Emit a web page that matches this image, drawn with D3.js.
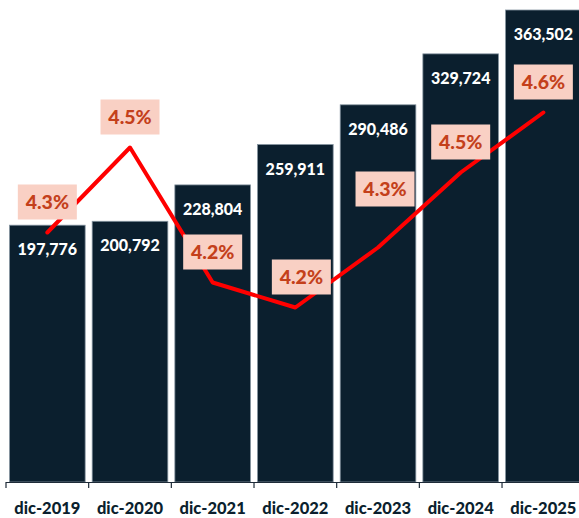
<!DOCTYPE html>
<html>
<head>
<meta charset="utf-8">
<script src="https://cdn.jsdelivr.net/npm/d3@7"></script>
<style>
  html, body { margin: 0; padding: 0; background: #ffffff; }
  svg { display: block; }
</style>
</head>
<body>
<svg id="chart" width="579" height="518"></svg>
<script>
// ---- data ----
const categories = ["dic-2019", "dic-2020", "dic-2021", "dic-2022", "dic-2023", "dic-2024", "dic-2025"];
const amounts = [197776, 200792, 228804, 259911, 290486, 329724, 363502];
const rates = [4.34, 4.51, 4.24, 4.19, 4.31, 4.46, 4.58];
const rateLabels = ["4.3%", "4.5%", "4.2%", "4.2%", "4.3%", "4.5%", "4.6%"];

// ---- layout ----
const W = 579, H = 518;
const baseY = 482, topY = 10;
const svg = d3.select("#chart");
const FONT = "Lato, 'Open Sans', sans-serif";

const x = d3.scaleBand()
  .domain(categories)
  .range([6, 584.7])
  .paddingInner(0.085)
  .paddingOuter(0.0425);

const y = d3.scaleLinear().domain([0, 363502]).range([baseY, topY]);
const y2 = d3.scaleLinear().domain([3.841, 4.785]).range([baseY, topY]);

const barColor = "#0b1f2e";

// bars
svg.append("g").selectAll("rect")
  .data(categories)
  .join("rect")
  .attr("x", d => x(d))
  .attr("y", (d, i) => y(amounts[i]))
  .attr("width", x.bandwidth())
  .attr("height", (d, i) => baseY - y(amounts[i]))
  .attr("fill", barColor)
  .attr("stroke", "#8594a0")
  .attr("stroke-width", 0.8);

// bar value labels
const fmt = d3.format(",");
svg.append("g").selectAll("text")
  .data(categories)
  .join("text")
  .attr("x", d => x(d) + x.bandwidth() / 2)
  .attr("y", (d, i) => y(amounts[i]) + 30)
  .attr("text-anchor", "middle")
  .attr("font-family", FONT)
  .attr("font-weight", 900)
  .attr("font-size", 16)
  .attr("fill", "#ffffff")
  .text((d, i) => fmt(amounts[i]));

// x axis
const step = x.step();
const axisG = svg.append("g");
axisG.append("line")
  .attr("x1", x.range()[0]).attr("x2", W)
  .attr("y1", baseY + 0.5).attr("y2", baseY + 0.5)
  .attr("stroke", "#1e2b38").attr("stroke-width", 1.2);
axisG.selectAll("line.tick")
  .data(d3.range(categories.length + 1))
  .join("line")
  .attr("class", "tick")
  .attr("x1", i => x.range()[0] + i * step)
  .attr("x2", i => x.range()[0] + i * step)
  .attr("y1", baseY).attr("y2", baseY + 6)
  .attr("stroke", "#1e2b38").attr("stroke-width", 1.2);
axisG.selectAll("text")
  .data(categories)
  .join("text")
  .attr("x", d => x(d) + x.bandwidth() / 2)
  .attr("y", 514)
  .attr("text-anchor", "middle")
  .attr("font-family", FONT)
  .attr("font-weight", 900)
  .attr("font-size", 16.5)
  .attr("fill", barColor)
  .text(d => d);

// line
const pts = categories.map((c, i) => [x(c) + x.bandwidth() / 2, y2(rates[i])]);
svg.append("path")
  .attr("d", d3.line()(pts))
  .attr("fill", "none")
  .attr("stroke", "#ff0000")
  .attr("stroke-width", 4)
  .attr("stroke-linejoin", "round")
  .attr("stroke-linecap", "round");

// rate labels (manual nudges as in the original)
const nudge = { "dic-2022": [6, 0], "dic-2023": [7, -28] };
const boxW = 59, boxH = 35, gap = 13;
const lg = svg.append("g").selectAll("g")
  .data(categories)
  .join("g")
  .attr("transform", (d, i) => {
    const n = nudge[d] || [0, 0];
    const cx = pts[i][0] + n[0];
    const cy = pts[i][1] - gap - boxH / 2 + n[1];
    return `translate(${cx},${cy})`;
  });
lg.append("rect")
  .attr("x", -boxW / 2).attr("y", -boxH / 2)
  .attr("width", boxW).attr("height", boxH)
  .attr("fill", "#f9d0c4");
lg.append("text")
  .attr("x", 0).attr("y", 7)
  .attr("text-anchor", "middle")
  .attr("font-family", FONT)
  .attr("font-weight", 900)
  .attr("font-size", 19.5)
  .attr("fill", "#c4401b")
  .text((d, i) => rateLabels[i]);
</script>
</body>
</html>
